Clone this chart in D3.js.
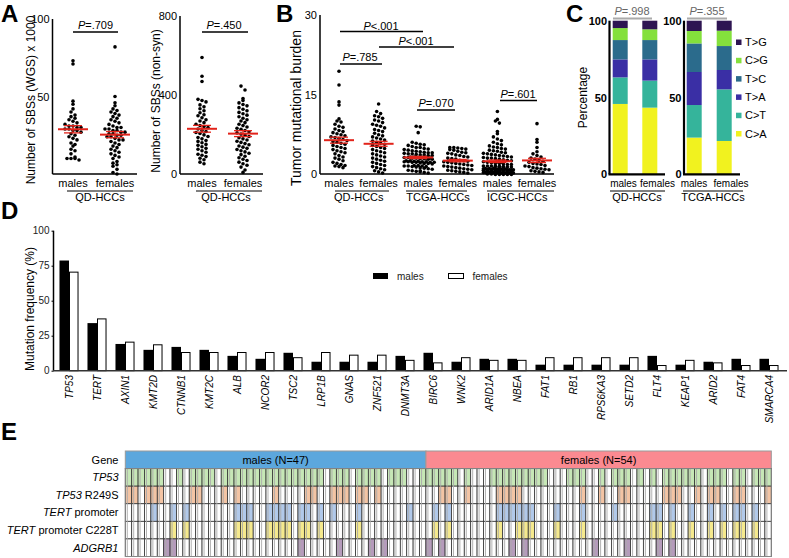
<!DOCTYPE html>
<html><head><meta charset="utf-8">
<script src="https://cdn.jsdelivr.net/npm/d3@7"></script>
<style>body{margin:0;background:#fff}svg{display:block}text{font-family:"Liberation Sans",Arial,Helvetica,sans-serif}</style>
</head><body><svg id="c" width="789" height="558"></svg>
<script>
// ---------------- DATA ----------------
const sexes = ["males", "females"];
// Panel A (left): SBSs (WGS) x 1000
const A1_males = [73,71,47,45,42,40,38,37,36,35,34,33,32,31,31,30,30,29,29,28,28,27,26,25,24,23,22,20,19,18,16,15,13,11,10,10,10,9];
const A1_females = [82,50,46,44,42,41,40,39,38,37,36,35,34,33,32,31,30,30,29,29,28,28,27,27,26,26,25,25,24,24,23,22,22,21,20,19,18,17,16,15,14,13,12,11,10,8,7,6,5,3,1,0];
// Panel A (right): SBSs (non-syn)
const A2_males = [590,495,468,378,372,365,350,340,330,320,310,300,295,285,275,268,260,252,245,240,235,228,220,215,210,205,198,190,185,178,170,165,158,150,145,138,130,125,118,110,100,95,88,80,72,60,52];
const A2_females = [445,425,382,372,360,352,345,336,328,320,312,305,298,290,282,275,268,260,252,245,238,232,226,220,214,208,202,196,190,184,178,172,166,160,154,148,142,136,130,124,118,112,105,98,90,82,75,68,60,52,44,35,20,8];
// Panel B: tumor mutational burden
const B_groups = ["QD-HCCs", "TCGA-HCCs", "ICGC-HCCs"];
const QD_males = [19.4,16.8,13.6,13.0,10.4,10.0,9.8,9.4,9.0,8.8,8.5,8.2,8.0,7.8,7.6,7.4,7.2,7.0,6.9,6.7,6.5,6.3,6.1,6.0,5.8,5.6,5.4,5.2,5.0,4.8,4.6,4.4,4.2,4.0,3.8,3.5,3.2,3.0,2.8,2.5,2.2,2.0,1.8,1.6,1.5,1.4,1.2];
const QD_females = [13.2,11.8,11.4,11.0,10.8,10.5,10.2,10.0,9.7,9.4,9.2,9.0,8.7,8.4,8.2,8.0,7.7,7.4,7.2,7.0,6.8,6.6,6.4,6.2,6.0,5.8,5.6,5.4,5.2,5.0,4.8,4.6,4.4,4.2,4.0,3.8,3.6,3.4,3.2,3.0,2.8,2.6,2.4,2.2,2.0,1.8,1.6,1.4,1.2,1.0,0.8,0.6,0.4,0.2];
const TCGA_males = [9.0,8.9,7.8,6.0,5.8,5.6,5.5,5.4,5.2,5.0,5.0,4.8,4.7,4.6,4.5,4.4,4.3,4.2,4.1,4.0,4.0,3.9,3.8,3.8,3.7,3.6,3.6,3.5,3.5,3.4,3.4,3.3,3.3,3.2,3.2,3.1,3.1,3.0,3.0,2.9,2.9,2.8,2.8,2.7,2.7,2.6,2.6,2.5,2.5,2.4,2.4,2.3,2.3,2.2,2.2,2.1,2.0,2.0,1.9,1.8,1.8,1.7,1.6,1.5,1.5,1.4,1.3,1.2,1.1,1.0,0.9,0.8,0.7,0.6,0.5,0.4,0.3,0.2];
const TCGA_females = [5.0,5.0,4.9,4.8,4.7,4.6,4.5,4.3,4.1,4.0,3.9,3.8,3.6,3.5,3.3,3.2,3.0,2.9,2.8,2.6,2.5,2.4,2.3,2.2,2.1,2.0,1.9,1.8,1.7,1.6,1.5,1.4,1.3,1.2,1.1,1.0,0.9,0.8,0.7,0.6,0.5,0.4,0.3,0.2];
const ICGC_males = [11.8,10.3,10.0,9.6,8.0,7.6,7.0,6.6,6.3,6.0,5.7,5.5,5.3,5.1,5.0,4.8,4.7,4.5,4.4,4.3,4.1,4.0,3.9,3.8,3.7,3.6,3.5,3.4,3.3,3.2,3.1,3.0,3.0,2.9,2.8,2.7,2.6,2.5,2.5,2.4,2.3,2.2,2.1,2.0,2.0,1.9,1.8,1.8,1.7,1.6,1.6,1.5,1.5,1.5,1.4,1.4,1.3,1.3,1.3,1.2,1.2,1.2,1.1,1.1,1.1,1.0,1.0,1.0,0.9,0.9,0.9,0.9,0.8,0.8,0.8,0.8,0.7,0.7,0.7,0.7,0.6,0.6,0.6,0.6,0.5,0.5,0.5,0.5,0.4,0.4,0.4,0.4,0.3,0.3,0.3,0.3,0.3,0.2,0.2,0.2,0.2,0.2,0.1,0.1,0.1,0.1,0.1];
const ICGC_females = [9.5,6.5,6.0,5.0,4.2,3.8,3.5,3.2,3.0,2.8,2.6,2.4,2.2,2.0,1.9,1.8,1.6,1.5,1.4,1.2,1.1,1.0,0.9,0.8,0.6,0.5,0.4,0.3];
// Panel C: SBS spectrum (%), stacked from bottom
const C_types = ["C>A","C>T","T>A","T>C","C>G","T>G"];
const C_bars = ["QD males","QD females","TCGA males","TCGA females"];
const C_CA = [45.8, 43.4, 23.9, 21.7];
const C_CT = [17.3, 17.6, 21.2, 33.6];
const C_TA = [11.7, 13.8, 21.5, 12.6];
const C_TC = [12.6, 12.6, 18.6, 15.6];
const C_CG = [7.8, 7.0, 8.1, 10.0];
const C_TG = [4.8, 5.6, 6.7, 6.5];
// Panel D: mutation frequency (%)
const D_genes = ["TP53","TERT","AXIN1","KMT2D","CTNNB1","KMT2C","ALB","NCOR2","TSC2","LRP1B","GNAS","ZNF521","DNMT3A","BIRC6","WNK2","ARID1A","NBEA","FAT1","RB1","RPS6KA3","SETD2","FLT4","KEAP1","ARID2","FAT4","SMARCA4"];
const D_males =   [78.7,34.0,19.1,14.9,17.0,14.9,10.6,8.5,12.8,6.4,6.4,6.4,10.6,12.8,6.4,8.5,8.5,4.3,4.3,4.3,4.3,10.6,4.3,6.4,8.5,8.5];
const D_females = [70.4,37.0,20.4,18.5,13.0,13.0,13.0,13.0,9.3,13.0,11.1,11.1,7.4,5.6,9.3,7.4,7.4,9.3,9.3,9.3,9.3,3.7,7.4,5.6,3.7,3.7];
// Panel E: per-sample alterations (47 males then 54 females), 1 = altered
const E_rows = ["TP53", "TP53 R249S", "TERT promoter", "TERT promoter C228T", "ADGRB1"];
const E_TP53  = "1111110010"+"1111011111"+"1111111111"+"1011101111"+"0111001111"+"1101000111"+"1111110001"+"1100101110"+"1010111111"+"0111011011"+"1";
const E_R249S = "1101110000"+"1100010100"+"0001000011"+"0011101101"+"0000000001"+"1001000011"+"1100000000"+"0100100110"+"0000111001"+"0110011000"+"1";
const E_TERT  = "0000100101"+"0000000111"+"0011110110"+"1010001000"+"0000100010"+"1000000011"+"1111000100"+"0100001000"+"0011010010"+"0101011010"+"0";
const E_C228T = "0000000101"+"0000000111"+"0011110110"+"1000001000"+"0000000010"+"1000000010"+"0111000100"+"0100000000"+"0011010010"+"0101011010"+"0";
const E_ADGRB1= "0000001100"+"0000000000"+"0000000100"+"0001000010"+"1000000101"+"0000000000"+"1010000000"+"0001000010"+"0001010000"+"0000000000"+"0";
const E_nMales = 47, E_nFemales = 54;

// ---------------- DRAW ----------------
const svg = d3.select("#c");
const RED = "#e2231a";

function panelLabel(t, x, y) {
  svg.append("text").attr("x", x).attr("y", y).attr("font-size", 24).attr("font-weight", "bold").text(t);
}
function pText(x, y, rel, color, size) {
  const t = svg.append("text").attr("x", x).attr("y", y).attr("text-anchor", "middle")
    .attr("font-size", size || 11).attr("fill", color || "#000");
  t.append("tspan").attr("font-style", "italic").text("P");
  t.append("tspan").text(rel);
}
function hline(x1, x2, y, color, w) {
  svg.append("line").attr("x1", x1).attr("x2", x2).attr("y1", y).attr("y2", y)
    .attr("stroke", color || "#000").attr("stroke-width", w || 1.5);
}
function vTitle(t, x, y, size) {
  svg.append("text").attr("transform", `translate(${x},${y}) rotate(-90)`).attr("text-anchor", "middle")
    .attr("dy", "0.35em").attr("font-size", size || 12).text(t);
}
function yAxis(scale, x, ticks, opt) {
  opt = opt || {};
  const g = svg.append("g").attr("transform", `translate(${x},0)`)
    .call(d3.axisLeft(scale).tickValues(ticks).tickSize(opt.tickSize || 0).tickPadding(opt.pad || 3));
  g.select(".domain").remove();
  g.selectAll("line").attr("stroke", "#000");
  g.selectAll("text").attr("font-size", opt.fs || 11).attr("fill", opt.color || "#000")
    .attr("font-weight", opt.bold ? "bold" : null)
    .attr("font-family", '"Liberation Sans", Arial, sans-serif');
  const r = scale.range();
  svg.append("line").attr("x1", x).attr("x2", x).attr("y1", r[0]).attr("y2", r[1])
    .attr("stroke", "#000").attr("stroke-width", opt.w || 1.5);
}
function swarmPoints(values, cx, y, opt) {
  opt = opt || {};
  const dx = opt.dx || 4.0, rowH = opt.rowH || 4.2, maxHalf = opt.maxHalf || 15;
  const maxPer = Math.floor(2 * maxHalf / dx) + 1;
  const pts = [];
  const bins = d3.groups(values.map(v => ({ v, py: y(v) })), d => Math.round(d.py / rowH));
  bins.forEach(([k, arr]) => {
    for (let j = 0; j * maxPer < arr.length; j++) {
      const chunk = arr.slice(j * maxPer, (j + 1) * maxPer);
      const c = chunk.length;
      chunk.forEach((d, i) => pts.push({ x: cx + (i - (c - 1) / 2) * dx + (j % 2 ? dx / 2 : 0), y: d.py + (j % 2 ? 1 : 0) }));
    }
  });
  return pts;
}
function drawGroup(values, cx, y, opt) {
  const pts = swarmPoints(values, cx, y, opt);
  svg.append("g").selectAll("circle").data(pts).join("circle")
    .attr("cx", d => d.x).attr("cy", d => d.y).attr("r", 1.8).attr("fill", "#000");
  const m = d3.mean(values), se = d3.deviation(values) / Math.sqrt(values.length);
  const g = svg.append("g").attr("stroke", RED);
  g.append("line").attr("x1", cx - 15).attr("x2", cx + 15).attr("y1", y(m)).attr("y2", y(m)).attr("stroke-width", 2);
  [m + se, m - se].forEach(v => g.append("line").attr("x1", cx - 9).attr("x2", cx + 9).attr("y1", y(v)).attr("y2", y(v)).attr("stroke-width", 1.3));
  g.append("line").attr("x1", cx).attr("x2", cx).attr("y1", y(m + se)).attr("y2", y(m - se)).attr("stroke-width", 1.3);
}
function xLabel(t, x, y, size) {
  svg.append("text").attr("x", x).attr("y", y).attr("text-anchor", "middle").attr("font-size", size || 11).text(t);
}

// ---- Panel A ----
panelLabel("A", 1, 22);
const yA1 = d3.scaleLinear().domain([0, 100]).range([174, 19]);
const xA1 = d3.scalePoint().domain(sexes).range([73, 115]);
yAxis(yA1, 52.5, [50, 100]);
hline(52.5, 137, 174);
drawGroup(A1_males, xA1("males"), yA1);
drawGroup(A1_females, xA1("females"), yA1);
sexes.forEach(s => xLabel(s, xA1(s), 187));
hline(67, 133, 191, "#000", 1);
xLabel("QD-HCCs", 100, 201);
pText(95.5, 29, "=.709"); hline(73, 118, 32);
vTitle("Number of SBSs (WGS) x 1000", 31, 100);

const yA2 = d3.scaleLinear().domain([0, 800]).range([174, 16]);
const xA2 = d3.scalePoint().domain(sexes).range([202, 243]);
yAxis(yA2, 180, [0, 400, 800]);
hline(180, 263, 174);
drawGroup(A2_males, xA2("males"), yA2);
drawGroup(A2_females, xA2("females"), yA2);
sexes.forEach(s => xLabel(s, xA2(s), 187));
hline(196, 262, 191, "#000", 1);
xLabel("QD-HCCs", 226, 201);
pText(224, 29, "=.450"); hline(202, 248, 32);
vTitle("Number of SBSs (non-syn)", 156, 101);

// ---- Panel B ----
panelLabel("B", 276, 22);
const yB = d3.scaleLinear().domain([0, 30]).range([174, 15]);
const bKeys = ["QD-HCCs|males", "QD-HCCs|females", "TCGA-HCCs|males", "TCGA-HCCs|females", "ICGC-HCCs|males", "ICGC-HCCs|females"];
const bVals = [QD_males, QD_females, TCGA_males, TCGA_females, ICGC_males, ICGC_females];
const xB = d3.scalePoint().domain(bKeys).range([339, 537]);
yAxis(yB, 320, [0, 15, 30]);
hline(320, 554, 174);
bKeys.forEach((k, i) => drawGroup(bVals[i], xB(k), yB, { maxHalf: 14 }));
bKeys.forEach(k => xLabel(k.split("|")[1], xB(k), 187));
const bUnder = [[335, 389], [406, 467], [487, 554]];
B_groups.forEach((gname, i) => {
  hline(bUnder[i][0], bUnder[i][1], 191, "#000", 1);
  xLabel(gname, (xB(gname + "|males") + xB(gname + "|females")) / 2, 201);
});
pText(381, 30, "<.001"); hline(340, 423, 31.5);
pText(416, 45, "<.001"); hline(379, 454, 47);
pText(360, 61, "=.785"); hline(340, 382, 64);
pText(436, 107, "=.070"); hline(417, 455, 110);
pText(518, 97.5, "=.601"); hline(500, 537, 100.5);
vTitle("Tumor mutational burden", 296, 108, 14);

// ---- Panel C ----
panelLabel("C", 566, 22);
const C_colors = { "C>A": "#f1f21f", "C>T": "#35b49b", "T>A": "#3a2fa5", "T>C": "#2b6b8c", "C>G": "#84e03c", "T>G": "#2e1552" };
const C_series = { "C>A": C_CA, "C>T": C_CT, "T>A": C_TA, "T>C": C_TC, "C>G": C_CG, "T>G": C_TG };
const C_table = C_bars.map((b, i) => { const o = { bar: b }; C_types.forEach(t => o[t] = C_series[t][i]); return o; });
const stackC = d3.stack().keys(C_types)(C_table);
const yC = d3.scaleLinear().domain([0, 100]).range([174.3, 20.7]);
const xC = d3.scaleOrdinal().domain(C_bars).range([612.7, 642.3, 686.7, 716.7]);
svg.append("g").selectAll("g").data(stackC).join("g").attr("fill", d => C_colors[d.key])
  .selectAll("rect").data(d => d).join("rect")
  .attr("x", d => xC(d.data.bar)).attr("width", 15)
  .attr("y", d => yC(d[1])).attr("height", d => yC(d[0]) - yC(d[1]));
yAxis(yC, 609.5, [0, 50, 100], { bold: true, w: 2.2, pad: 2.5 });
yAxis(yC, 684, [0, 50, 100], { bold: true, w: 2.2, pad: 2.5 });
hline(608.5, 665, 174.3, "#000", 2.2);
hline(683, 740, 174.3, "#000", 2.2);
[["males", 623.5], ["females", 657.5], ["males", 694], ["females", 731]].forEach(d => xLabel(d[0], d[1], 187, 10));
hline(610, 665, 191, "#000", 1); xLabel("QD-HCCs", 637, 201);
hline(683, 743, 191, "#000", 1); xLabel("TCGA-HCCs", 713, 201);
pText(632, 14.5, "=.998", "#666"); hline(613, 652, 18.5, "#aaa", 2);
pText(707, 14.5, "=.355", "#666"); hline(687, 727, 18.5, "#aaa", 2);
vTitle("Percentage", 583, 97.5, 12);
const legC = C_types.slice().reverse();
const yLeg = d3.scalePoint().domain(legC).range([42.3, 133.8]);
legC.forEach(t => {
  svg.append("rect").attr("x", 736).attr("y", yLeg(t) - 2.8).attr("width", 5.5).attr("height", 5.5).attr("fill", C_colors[t]);
  svg.append("text").attr("x", 745).attr("y", yLeg(t)).attr("dy", "0.35em").attr("font-size", 11).text(t);
});

// ---- Panel D ----
panelLabel("D", 1, 219);
const xD = d3.scaleBand().domain(D_genes).range([55, 783]).paddingInner(0.32).paddingOuter(0.16);
const xDs = d3.scaleBand().domain(sexes).range([0, xD.bandwidth()]);
const yD = d3.scaleLinear().domain([0, 100]).range([370.7, 230.7]);
const dTable = D_genes.map((g, i) => ({ gene: g, males: D_males[i], females: D_females[i] }));
svg.append("g").selectAll("g").data(dTable).join("g")
  .attr("transform", d => `translate(${xD(d.gene)},0)`)
  .selectAll("rect").data(d => sexes.map(s => ({ s, v: d[s] }))).join("rect")
  .attr("x", d => xDs(d.s) + (d.s === "females" ? 0.5 : 0))
  .attr("width", d => xDs.bandwidth() - (d.s === "females" ? 1 : 0))
  .attr("y", d => yD(d.v)).attr("height", d => yD(0) - yD(d.v))
  .attr("fill", d => d.s === "males" ? "#000" : "#fff")
  .attr("stroke", d => d.s === "males" ? "none" : "#000").attr("stroke-width", 1);
yAxis(yD, 53.5, [0, 25, 50, 75, 100], { tickSize: 2, fs: 10, pad: 2, color: "#222" });
hline(53, 787, 370.7, "#333", 1.5);
svg.append("g").selectAll("text").data(D_genes).join("text")
  .attr("transform", d => `translate(${xD(d) + xD.bandwidth() / 2},375) rotate(-90)`)
  .attr("text-anchor", "end").attr("dy", "0.35em").attr("font-size", 10).attr("font-style", "italic").text(d => d);
vTitle("Mutation frequency (%)", 30, 309, 12);
svg.append("rect").attr("x", 373).attr("y", 273).attr("width", 15).attr("height", 6).attr("fill", "#000");
svg.append("text").attr("x", 397).attr("y", 276).attr("dy", "0.35em").attr("font-size", 10).attr("fill", "#222").text("males");
svg.append("rect").attr("x", 448.5).attr("y", 273.5).attr("width", 15).attr("height", 5).attr("fill", "#fff").attr("stroke", "#000");
svg.append("text").attr("x", 472.5).attr("y", 276).attr("dy", "0.35em").attr("font-size", 10).attr("fill", "#222").text("females");

// ---- Panel E ----
panelLabel("E", 1, 440);
const nE = E_nMales + E_nFemales;
const xE = d3.scaleBand().domain(d3.range(nE)).range([125.3, 771.3]);
const rowKeys = ["Gene"].concat(E_rows);
const yE = d3.scaleBand().domain(rowKeys).range([451, 556.5]);
const E_data = [E_TP53, E_R249S, E_TERT, E_C228T, E_ADGRB1];
const E_col = ["#c6e7b6", "#f3c4a4", "#b1c9ea", "#f5e98d", "#b59bbb"];
// header
svg.append("rect").attr("x", xE(0)).attr("y", yE("Gene")).attr("width", xE(E_nMales) - xE(0)).attr("height", yE.bandwidth())
  .attr("fill", "#5ca7dd").attr("stroke", "#999");
svg.append("rect").attr("x", xE(E_nMales)).attr("y", yE("Gene")).attr("width", xE.range()[1] - xE(E_nMales)).attr("height", yE.bandwidth())
  .attr("fill", "#fb8a91").attr("stroke", "#999");
xLabel(`males (N=${E_nMales})`, (xE(0) + xE(E_nMales)) / 2, yE("Gene") + yE.bandwidth() / 2 + 4, 11);
xLabel(`females (N=${E_nFemales})`, (xE(E_nMales) + xE.range()[1]) / 2, yE("Gene") + yE.bandwidth() / 2 + 4, 11);
// cells
const cells = [];
E_rows.forEach((r, ri) => d3.range(nE).forEach(i => cells.push({ r, i, on: E_data[ri][i] === "1", c: E_col[ri] })));
svg.append("g").selectAll("rect").data(cells).join("rect")
  .attr("x", d => xE(d.i)).attr("y", d => yE(d.r)).attr("width", xE.bandwidth()).attr("height", yE.bandwidth())
  .attr("fill", d => d.on ? d.c : "#fff").attr("stroke", "#333").attr("stroke-width", 0.8);
svg.append("g").selectAll("line").data(d3.range(nE)).join("line")
  .attr("x1", d => xE(d) + 2).attr("x2", d => xE(d) + 2)
  .attr("y1", yE(E_rows[0])).attr("y2", yE.range()[1])
  .attr("stroke", "#aaa").attr("stroke-width", 0.9);
svg.append("rect").attr("x", xE.range()[0]).attr("y", yE(E_rows[0])).attr("width", xE.range()[1] - xE.range()[0])
  .attr("height", yE.range()[1] - yE(E_rows[0])).attr("fill", "none").attr("stroke", "#888").attr("stroke-width", 1);
// row labels
const rowLab = svg.append("g").selectAll("text").data(rowKeys).join("text")
  .attr("x", 118.5).attr("y", d => yE(d) + yE.bandwidth() / 2).attr("dy", "0.35em")
  .attr("text-anchor", "end").attr("font-size", 11);
rowLab.each(function (d) {
  const t = d3.select(this);
  if (d === "Gene") { t.text(d); return; }
  const parts = d.split(" ");
  t.append("tspan").attr("font-style", "italic").text(parts[0]);
  if (parts.length > 1) t.append("tspan").text(" " + parts.slice(1).join(" "));
  if (d === "ADGRB1") t.attr("font-style", "italic");
});
</script></body></html>
